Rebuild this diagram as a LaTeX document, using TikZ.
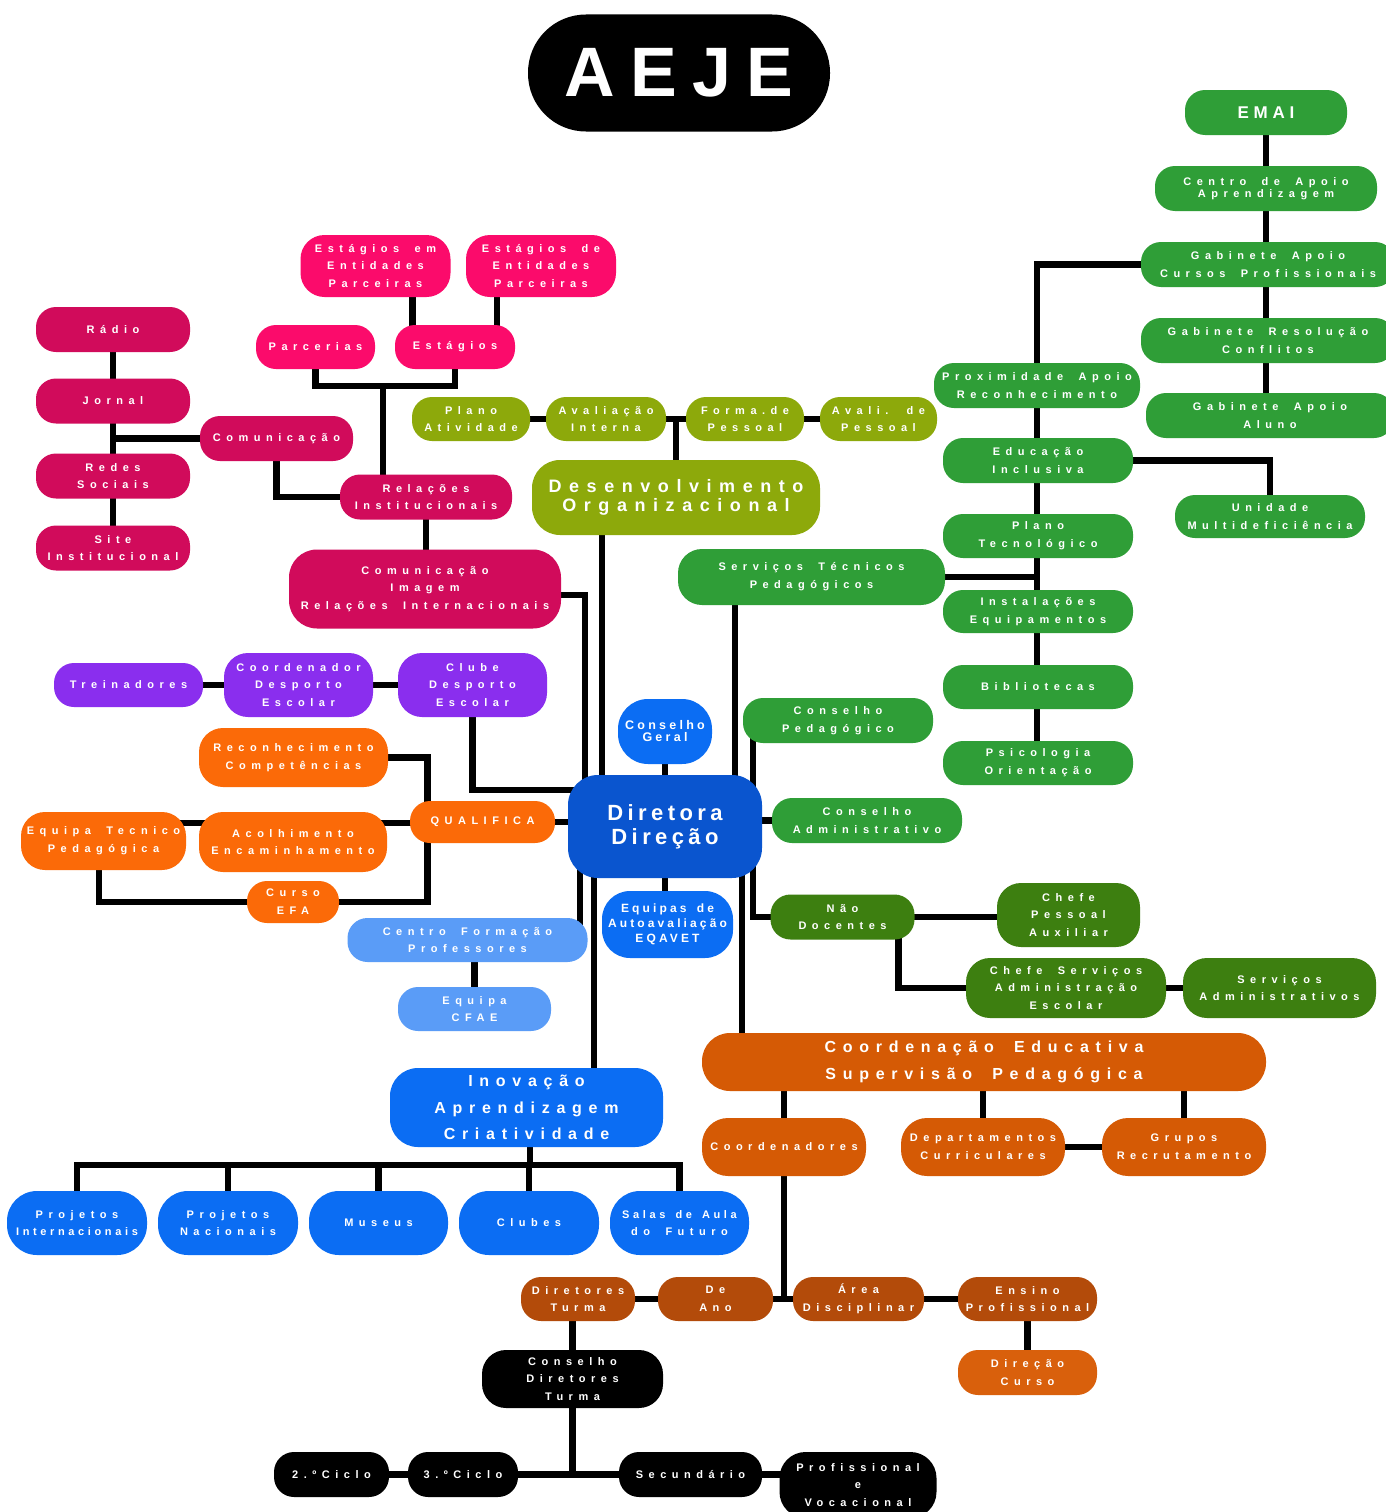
\documentclass[tikz,border=0pt]{standalone}
\usepackage{fontspec}
\setmainfont{Liberation Sans}
\newfontfamily\fntS{Liberation Sans}[LetterSpace=50,WordSpace=1.8]
\newfontfamily\fntN{Liberation Sans}[LetterSpace=33,WordSpace=1.5]
\newfontfamily\fntM{Liberation Sans}[LetterSpace=42,WordSpace=1.8]
\newfontfamily\fntG{Liberation Sans}[LetterSpace=26,WordSpace=1.6]
\newfontfamily\fntD{Liberation Sans}[LetterSpace=20]
\newfontfamily\fntE{Liberation Sans}[LetterSpace=28]
\newfontfamily\fntT{Liberation Sans}[LetterSpace=22]
\usetikzlibrary{calc}
\pgfdeclarelayer{bg}\pgfsetlayers{bg,main}
\definecolor{cPk}{HTML}{FB0B6B}
\definecolor{cCr}{HTML}{D10B5B}
\definecolor{cOl}{HTML}{8DA90B}
\definecolor{cGr}{HTML}{2F9E37}
\definecolor{cDg}{HTML}{3D7F10}
\definecolor{cBl}{HTML}{0B6DF3}
\definecolor{cDb}{HTML}{0A55CF}
\definecolor{cLb}{HTML}{5A9CF7}
\definecolor{cPu}{HTML}{8A2EEE}
\definecolor{cOr}{HTML}{FB6A08}
\definecolor{cDo}{HTML}{D55A05}
\definecolor{cBr}{HTML}{B34B0A}
\definecolor{cLo}{HTML}{D9600C}
\begin{document}
\begin{tikzpicture}[x=1pt,y=-1pt,
  bx/.style={rectangle, rounded corners=20pt, inner sep=0pt, text=white, align=center,
    font=\fntS\bfseries\fontsize{11}{17.8}\selectfont},
  sz/.style 2 args={minimum width=#1pt, minimum height=#2pt},
  ln/.style={line width=6.5pt, draw=black}]
\useasboundingbox (0,0) rectangle (1386,1512);

% title
\node[bx, fill=black, rounded corners=58pt, sz={302}{117}, font=\fntT\bfseries\fontsize{70}{70}\selectfont] (aeje) at (679,73) {AEJE};

% pink
\node[bx, fill=cPk, rounded corners=24pt, sz={150}{62}] (esta) at (375.5,266) {Estágios em\\Entidades\\Parceiras};
\node[bx, fill=cPk, rounded corners=24pt, sz={150}{62}] (estb) at (541,266) {Estágios de\\Entidades\\Parceiras};
\node[bx, fill=cPk, sz={119}{44}] (parc) at (315.5,347) {Parcerias};
\node[bx, fill=cPk, sz={120}{44}] (estg) at (455,347) {Estágios};
\node[bx, fill=cCr, sz={154}{45}] (radio) at (113,329.5) {Rádio};
\node[bx, fill=cCr, sz={154}{45}] (jornal) at (113,401) {Jornal};
\node[bx, fill=cCr, sz={153}{45}] (comu) at (276.5,438.5) {Comunicação};
\node[bx, fill=cCr, sz={154}{45}] (redes) at (113,476) {Redes\\Sociais};
\node[bx, fill=cCr, sz={154}{45}] (site) at (113,548) {Site\\Institucional};
\node[bx, fill=cCr, sz={172}{45}] (relinst) at (426,497) {Relações\\Institucionais};
\node[bx, fill=cCr, rounded corners=28pt, sz={272}{79}] (comimg) at (425,589) {Comunicação\\Imagem\\Relações Internacionais};

% olive
\node[bx, fill=cOl, sz={118}{44}] (plano) at (471,419) {Plano\\Atividade};
\node[bx, fill=cOl, sz={120}{44}] (avalint) at (606,419) {Avaliação\\Interna};
\node[bx, fill=cOl, sz={118}{44}] (forma) at (745,419) {Forma.de\\Pessoal};
\node[bx, fill=cOl, sz={117}{44}] (avalp) at (878.5,419) {Avali. de\\Pessoal};
\node[bx, fill=cOl, rounded corners=28pt, sz={288}{75}, font=\fntM\bfseries\fontsize{18}{19}\selectfont] (desenv) at (676,497.5) {Desenvolvimento\\Organizacional};

% green
\node[bx, fill=cGr, sz={162}{45}, font=\fntE\bfseries\fontsize{17}{18}\selectfont] (emai) at (1266,112.5) {EMAI};
\node[bx, fill=cGr, sz={222}{45}, font=\fntS\bfseries\fontsize{11}{12}\selectfont] (capa) at (1266,188.5) {Centro de Apoio\\Aprendizagem};
\node[bx, fill=cGr, sz={254}{45}] (gacp) at (1268,264.5) {Gabinete Apoio\\Cursos Profissionais};
\node[bx, fill=cGr, sz={254}{45}] (grc) at (1268,340.5) {Gabinete Resolução\\Conflitos};
\node[bx, fill=cGr, sz={248}{45}] (gaa) at (1270,415.5) {Gabinete Apoio\\Aluno};
\node[bx, fill=cGr, sz={206}{45}] (prox) at (1037,385.5) {Proximidade Apoio\\Reconhecimento};
\node[bx, fill=cGr, sz={190}{45}] (edinc) at (1038,460.5) {Educação\\Inclusiva};
\node[bx, fill=cGr, sz={190}{43}] (unid) at (1270,516.5) {Unidade\\Multideficiência};
\node[bx, fill=cGr, sz={190}{44}] (plantec) at (1038,536) {Plano\\Tecnológico};
\node[bx, fill=cGr, sz={190}{43}] (instal) at (1038,611.5) {Instalações\\Equipamentos};
\node[bx, fill=cGr, sz={190}{44}] (biblio) at (1038,687) {Bibliotecas};
\node[bx, fill=cGr, sz={190}{44}] (psico) at (1038,763) {Psicologia\\Orientação};
\node[bx, fill=cGr, rounded corners=24pt, sz={267}{56}] (servtec) at (811.5,577) {Serviços Técnicos\\Pedagógicos};
\node[bx, fill=cGr, sz={190}{45}] (conped) at (838,720.5) {Conselho\\Pedagógico};
\node[bx, fill=cGr, sz={190}{45}] (conadm) at (867,820.5) {Conselho\\Administrativo};

% dark green
\node[bx, fill=cDg, sz={144}{45}] (naodoc) at (842.5,917) {Não\\Docentes};
\node[bx, fill=cDg, rounded corners=24pt, sz={143}{64}] (chefep) at (1068.5,915) {Chefe\\Pessoal\\Auxiliar};
\node[bx, fill=cDg, rounded corners=24pt, sz={200}{60}] (chefes) at (1066,988) {Chefe Serviços\\Administração\\Escolar};
\node[bx, fill=cDg, rounded corners=24pt, sz={193}{60}] (servadm) at (1279.5,988) {Serviços\\Administrativos};

% blue
\node[bx, fill=cBl, rounded corners=30pt, sz={94}{65}, font=\fntG\bfseries\fontsize{12.5}{12}\selectfont] (conger) at (665,731.5) {Conselho\\Geral};
\node[bx, fill=cDb, rounded corners=30pt, sz={194}{103}, font=\fntD\bfseries\fontsize{22}{24}\selectfont] (diret) at (665,826.5) {Diretora\\Direção};
\node[bx, fill=cBl, rounded corners=28pt, sz={131}{67}, font=\fntG\bfseries\fontsize{12}{15}\selectfont] (equipas) at (667.5,924.5) {Equipas de\\Autoavaliação\\EQAVET};
\node[bx, fill=cLb, sz={240}{44}] (cfp) at (467.5,940) {Centro Formação\\Professores};
\node[bx, fill=cLb, sz={153}{44}] (cfae) at (474.5,1009) {Equipa\\CFAE};
\node[bx, fill=cBl, rounded corners=28pt, sz={273}{79}, font=\fntM\bfseries\fontsize{16}{26.5}\selectfont] (inov) at (526.5,1107.5) {Inovação\\Aprendizagem\\Criatividade};
\node[bx, fill=cBl, rounded corners=30pt, sz={140}{64}] (pint) at (77,1223) {Projetos\\{\fntN Internacionais}};
\node[bx, fill=cBl, rounded corners=30pt, sz={140}{64}] (pnac) at (228,1223) {Projetos\\Nacionais};
\node[bx, fill=cBl, rounded corners=30pt, sz={139}{64}] (museus) at (378.5,1223) {Museus};
\node[bx, fill=cBl, rounded corners=30pt, sz={140}{64}] (clubes) at (529,1223) {Clubes};
\node[bx, fill=cBl, rounded corners=30pt, sz={139}{64}] (salas) at (679.5,1223) {{\fntN Salas de Aula}\\do Futuro};

% purple
\node[bx, fill=cPu, sz={149}{44}] (trein) at (128.5,685) {Treinadores};
\node[bx, fill=cPu, rounded corners=24pt, sz={149}{64}] (coord) at (298.5,685) {Coordenador\\Desporto\\Escolar};
\node[bx, fill=cPu, rounded corners=24pt, sz={149}{64}] (clube) at (472.5,685) {Clube\\Desporto\\Escolar};

% orange
\node[bx, fill=cOr, rounded corners=24pt, sz={189}{59}] (recon) at (293.5,757.5) {Reconhecimento\\Competências};
\node[bx, fill=cOr, sz={145}{42}] (qual) at (482.5,822) {QUALIFICA};
\node[bx, fill=cOr, rounded corners=24pt, sz={188}{60}] (acolh) at (293,842) {Acolhimento\\Encaminhamento};
\node[bx, fill=cOr, rounded corners=24pt, sz={165}{58}] (eqtp) at (103.5,841) {Equipa Tecnico\\Pedagógica};
\node[bx, fill=cOr, sz={92}{42}] (curso) at (293,902) {Curso\\EFA};

% dark orange
\node[bx, fill=cDo, rounded corners=28pt, sz={564}{58}, font=\fntM\bfseries\fontsize{16}{27}\selectfont] (coordedu) at (984,1062) {Coordenação Educativa\\Supervisão Pedagógica};
\node[bx, fill=cDo, rounded corners=26pt, sz={164}{58}] (coordres) at (784,1147) {Coordenadores};
\node[bx, fill=cDo, rounded corners=26pt, sz={164}{58}] (depart) at (983,1147) {Departamentos\\Curriculares};
\node[bx, fill=cDo, rounded corners=26pt, sz={164}{58}] (grupos) at (1184,1147) {Grupos\\Recrutamento};

% brown
\node[bx, fill=cBr, sz={114}{44}] (dirt) at (578,1299) {Diretores\\Turma};
\node[bx, fill=cBr, sz={115}{44}] (deano) at (715.5,1299) {De\\Ano};
\node[bx, fill=cBr, sz={131}{44}] (area) at (858.5,1299) {Área\\Disciplinar};
\node[bx, fill=cBr, sz={139}{44}] (ensino) at (1027.5,1299) {Ensino\\Profissional};
\node[bx, fill=cLo, sz={139}{45}] (dircur) at (1027.5,1372.5) {Direção\\Curso};

% black
\node[bx, fill=black, rounded corners=24pt, sz={181}{58}] (cdt) at (572.5,1379) {Conselho\\Diretores\\Turma};
\node[bx, fill=black, sz={115}{45}] (c2) at (331.5,1474.5) {2.ºCiclo};
\node[bx, fill=black, sz={110}{45}] (c3) at (463,1474.5) {3.ºCiclo};
\node[bx, fill=black, sz={143}{45}] (sec) at (690.5,1474.5) {Secundário};
\node[bx, fill=black, rounded corners=26pt, sz={157}{66}] (prof) at (858,1485) {Profissional\\e\\Vocacional};

\begin{pgfonlayer}{bg}
\fill[white] (0,0) rectangle (1386,1512);
% pink
\coordinate (e1) at ([xshift=37pt]esta.center);
\draw[ln] (e1) -- (e1 |- estg.center);
\coordinate (e2) at ([xshift=-44pt]estb.center);
\draw[ln] (e2) -- (e2 |- estg.center);
\coordinate (j1) at (383,386);
\draw[ln] (parc.center) |- (j1) -| (estg.center);
\draw[ln] (j1) -- (j1 |- relinst.center);
\draw[ln] (radio.center) -- (site.center);
\draw[ln] (comu.center) -- (comu.center -| radio.center);
\draw[ln] (comu.center) |- (relinst.center);
\draw[ln] (relinst.center) -- (relinst.center |- comimg.center);
\coordinate (d1) at ([xshift=-80pt]diret.center);
\draw[ln] ([yshift=-6pt]comimg.center) -| (d1);
% olive
\coordinate (d2) at ([xshift=-63pt]diret.center);
\draw[ln] (d2) -- (d2 |- desenv.center);
\draw[ln] (plano.center) -- (avalp.center);
\draw[ln] (desenv.center) -- (desenv.center |- avalint.center);
% green
\draw[ln] (emai.center) -- (emai.center |- gaa.center);
\draw[ln] (gacp.center) -| (prox.center);
\draw[ln] (prox.center) -- (prox.center |- psico.center);
\draw[ln] (edinc.center) -| (unid.center);
\draw[ln] (servtec.center) -- (servtec.center -| plantec.center);
\coordinate (d3) at ([xshift=70pt]diret.center);
\draw[ln] (d3) -- (d3 |- servtec.center);
\coordinate (d4) at ([xshift=88pt]diret.center);
\draw[ln] (d4 |- conped.center) |- (naodoc.center);
\draw[ln] (conadm.center) -- (conadm.center -| diret.center);
\draw[ln] (naodoc.center) -- (naodoc.center -| chefep.center);
\coordinate (n1) at ([xshift=56pt]naodoc.center);
\draw[ln] (n1) |- (chefes.center);
\draw[ln] (chefes.center) -- (servadm.center);
\coordinate (d5) at ([xshift=77pt]diret.center);
\draw[ln] (d5) -- (d5 |- coordedu.center);
% blue
\draw[ln] (conger.center) -- (conger.center |- equipas.center);
\coordinate (d6) at ([xshift=-85pt]diret.center);
\draw[ln] (d6) -- (d6 |- cfp.center);
\coordinate (d7) at ([xshift=-71pt]diret.center);
\draw[ln] (d7) -- (d7 |- inov.center);
\draw[ln] (cfae.center) -- (cfae.center |- cfp.center);
\coordinate (bj) at (530,1165);
\draw[ln] (bj) -- (bj |- inov.center);
\draw[ln] (pint.center) |- (bj) -| (salas.center);
\draw[ln] (pnac.center) -- (pnac.center |- bj);
\draw[ln] (museus.center) -- (museus.center |- bj);
\draw[ln] (clubes.center) -- (clubes.center |- bj);
% purple / orange
\draw[ln] (qual.center) -- (qual.center -| diret.center);
\coordinate (d8) at ([yshift=36.5pt]diret.center);
\draw[ln] (clube.center) |- (d8);
\draw[ln] (trein.center) -- (clube.center);
\coordinate (q1) at ([xshift=-55pt]qual.center);
\draw[ln] (recon.center) -| (q1) |- (curso.center);
\coordinate (q2) at ([yshift=18pt]eqtp.center);
\draw[ln] (q2) -- (q2 -| qual.center);
\coordinate (q3) at ([xshift=-4.5pt]eqtp.center);
\draw[ln] (q3) |- (curso.center);
% dark orange / brown / black
\draw[ln] (coordres.center) -- (coordres.center |- coordedu.center);
\draw[ln] (depart.center) -- (depart.center |- coordedu.center);
\draw[ln] (grupos.center) -- (grupos.center |- coordedu.center);
\draw[ln] (depart.center) -- (grupos.center);
\draw[ln] (coordres.center) -- (coordres.center |- area.center);
\draw[ln] (dirt.center) -- (ensino.center);
\draw[ln] (cdt.center) -- (cdt.center |- dirt.center);
\draw[ln] (ensino.center) -- (dircur.center);
\draw[ln] (c2.center) -- (c2.center -| prof.center);
\draw[ln] (cdt.center) -- (cdt.center |- c2.center);
\end{pgfonlayer}
\end{tikzpicture}
\end{document}
